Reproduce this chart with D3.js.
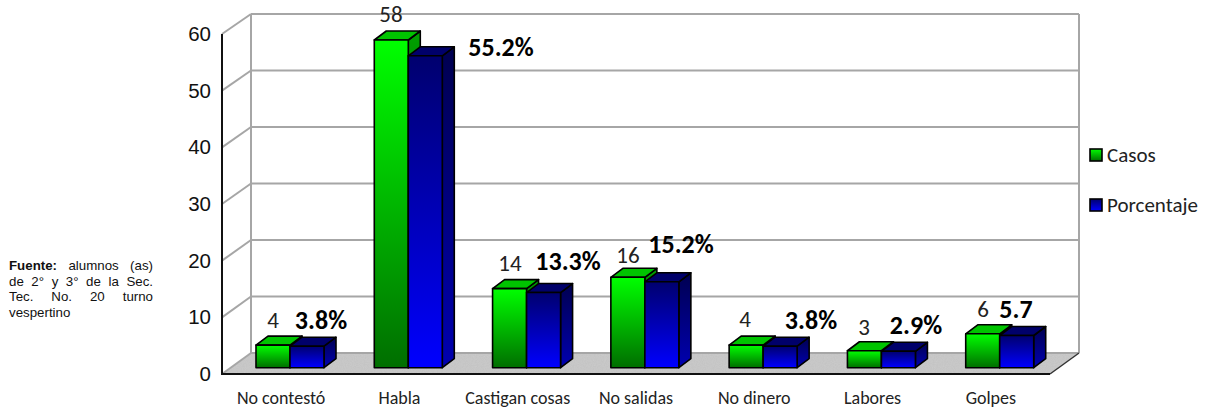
<!DOCTYPE html>
<html><head><meta charset="utf-8">
<script src="https://cdn.jsdelivr.net/npm/d3@7/dist/d3.min.js"></script>
<style>
html,body{margin:0;padding:0;background:#fff;width:1207px;height:410px;overflow:hidden}
svg{position:absolute;left:0;top:0}
#fuente{position:absolute;left:9px;top:258px;width:144px;font:13.3px/15.7px "Liberation Sans",Arial,sans-serif;color:#111}
#fuente div{text-align:justify;text-align-last:justify;white-space:nowrap}
#fuente div:last-child{text-align-last:left}
</style></head><body>
<svg id="c" width="1207" height="410"></svg>
<div id="fuente"></div>
<script>
const categories=["No contestó","Habla","Castigan cosas","No salidas","No dinero","Labores","Golpes"];
const seriesNames=["Casos","Porcentaje"];
const casos=[4,58,14,16,4,3,6];
const porcentaje=[3.8,55.2,13.3,15.2,3.8,2.9,5.7];
const casosLabels=["4","58","14","16","4","3","6"];
const porcentajeLabels=["3.8%","55.2%","13.3%","15.2%","3.8%","2.9%","5.7"];
const yTicks=[0,10,20,30,40,50,60];
const fuenteLines=["<b>Fuente:</b> alumnos (as)","de 2° y 3° de la Sec.","Tec. No. 20 turno","vespertino"];

// label anchor points
const casosLabelPos=[[273,320],[391,14],[510,263],[628,255],[745,319],[864,327],[983,309]];
const pctLabelPos=[[321,320],[501,47],[568,261],[681,244],[811,320],[916,325],[1016,309]];

const svg=d3.select("#c");
const W0=222,W1=1050,dx=29;
const yFront=d3.scaleLinear().domain([0,60]).range([374,34]);
const yBack=d3.scaleLinear().domain([0,60]).range([353,14]);
const yBar=d3.scaleLinear().domain([0,60]).range([367.7,28.7]);
const x=d3.scaleBand().domain(categories).range([W0,W1]);
const xSeries=d3.scaleBand().domain(seriesNames).range([34,102]);
const depthX=12,depthY=-9;

const defs=svg.append("defs");
function grad(id,c1,c2){
  const g=defs.append("linearGradient").attr("id",id).attr("x1",0).attr("y1",0).attr("x2",0).attr("y2",1);
  g.append("stop").attr("offset",0).attr("stop-color",c1);
  g.append("stop").attr("offset",1).attr("stop-color",c2);
}
grad("gFront","#00ff00","#006e00");
grad("bFront","#00006e","#0000ff");
grad("gSide","#00a000","#003c00");
grad("bSide","#000050","#0000b0");
const f=defs.append("filter").attr("id","noise").attr("x",0).attr("y",0).attr("width",1).attr("height",1);
f.append("feTurbulence").attr("type","fractalNoise").attr("baseFrequency",0.9).attr("numOctaves",2).attr("seed",3).attr("result","n");
f.append("feColorMatrix").attr("in","n").attr("type","matrix").attr("values","0 0 0 0 0.62  0 0 0 0 0.62  0 0 0 0 0.62  0.9 0 0 0 -0.2").attr("result","m");
f.append("feComposite").attr("in","m").attr("in2","SourceGraphic").attr("operator","in").attr("result","c");
f.append("feMerge").selectAll("feMergeNode").data(["SourceGraphic","c"]).join("feMergeNode").attr("in",d=>d);

const gray="#a6a6a6";
svg.append("polygon").attr("points",[[W0,yFront(0)],[W1,yFront(0)],[W1+dx,yBack(0)],[W0+dx,yBack(0)]].join(" "))
  .attr("fill","#c4c4c4").attr("filter","url(#noise)");
svg.append("g").selectAll("line").data(yTicks).join("line")
  .attr("x1",W0+dx).attr("x2",W1+dx).attr("y1",d=>yBack(d)).attr("y2",d=>yBack(d))
  .attr("stroke",gray).attr("stroke-width",2);
svg.append("g").selectAll("line").data(yTicks).join("line")
  .attr("x1",W0).attr("x2",W0+dx).attr("y1",d=>yFront(d)).attr("y2",d=>yBack(d))
  .attr("stroke",gray).attr("stroke-width",2);
[W0+dx,W1+dx].forEach(px=>
  svg.append("line").attr("x1",px).attr("y1",yBack(60)).attr("x2",px).attr("y2",yBack(0)).attr("stroke",gray).attr("stroke-width",2));
svg.append("line").attr("x1",W1).attr("y1",yFront(0)).attr("x2",W1+dx).attr("y2",yBack(0)).attr("stroke","#333").attr("stroke-width",1.5);
svg.append("line").attr("x1",W0).attr("y1",yFront(60)).attr("x2",W0).attr("y2",yFront(0)).attr("stroke","#111").attr("stroke-width",2);
svg.append("line").attr("x1",W0-1).attr("y1",yFront(0)).attr("x2",W1).attr("y2",yFront(0)).attr("stroke","#111").attr("stroke-width",2);

function bar3d(g,xp,v,cols){
  const w=xSeries.bandwidth(),t=yBar(v),b=yBar(0);
  g.append("polygon").attr("points",[[xp+w,t],[xp+w+depthX,t+depthY],[xp+w+depthX,b+depthY],[xp+w,b]].join(" ")).attr("fill",cols[2]);
  g.append("polygon").attr("points",[[xp,t],[xp+depthX,t+depthY],[xp+w+depthX,t+depthY],[xp+w,t]].join(" ")).attr("fill",cols[1]);
  g.append("rect").attr("x",xp).attr("y",t).attr("width",w).attr("height",b-t).attr("fill",cols[0]);
}
const barsG=svg.append("g").attr("stroke","#000").attr("stroke-width",1.6).attr("stroke-linejoin","round");
categories.forEach((c,i)=>{
  bar3d(barsG,x(c)+xSeries("Casos"),casos[i],["url(#gFront)","#00c400","url(#gSide)"]);
  bar3d(barsG,x(c)+xSeries("Porcentaje"),porcentaje[i],["url(#bFront)","#00006a","url(#bSide)"]);
});

const ax=svg.append("g").attr("transform",`translate(${W0-11},0)`)
  .call(d3.axisLeft(yFront).tickValues(yTicks).tickSize(0).tickPadding(0));
ax.select(".domain").remove();
ax.selectAll("text").attr("font-family","'Liberation Sans',Arial,sans-serif").attr("font-size",20.5).attr("fill","#111");

const cat=svg.append("g").attr("transform","translate(0,391)")
  .call(d3.axisBottom(x).tickSize(0).tickPadding(0));
cat.select(".domain").remove();
cat.selectAll("text").attr("font-family","Carlito,Lato,sans-serif").attr("font-size",18).attr("fill","#222");

const lab=svg.append("g").attr("font-family","Carlito,Lato,sans-serif").attr("text-anchor","middle").attr("dominant-baseline","central");
lab.selectAll("text.c").data(casosLabels).join("text").attr("class","c")
  .attr("x",(d,i)=>casosLabelPos[i][0]).attr("y",(d,i)=>casosLabelPos[i][1]).attr("font-size",23).attr("fill","#222").text(d=>d);
lab.selectAll("text.p").data(porcentajeLabels).join("text").attr("class","p")
  .attr("x",(d,i)=>pctLabelPos[i][0]).attr("y",(d,i)=>pctLabelPos[i][1]).attr("font-size",26).attr("font-weight",700).attr("fill","#000").text(d=>d);

const legendY=d3.scalePoint().domain(seriesNames).range([155,205]);
const leg=svg.append("g");
seriesNames.forEach((n,i)=>{
  leg.append("rect").attr("x",1090).attr("y",legendY(n)-6).attr("width",12).attr("height",12)
    .attr("fill",i?"url(#bFront)":"url(#gFront)").attr("stroke","#000").attr("stroke-width",1.6);
  leg.append("text").attr("x",1107).attr("y",legendY(n)).attr("dominant-baseline","central")
    .attr("font-family","Carlito,Lato,sans-serif").attr("font-size",21).attr("fill","#222").text(n);
});

d3.select("#fuente").selectAll("div").data(fuenteLines).join("div").html(d=>d);
</script>
</body></html>
